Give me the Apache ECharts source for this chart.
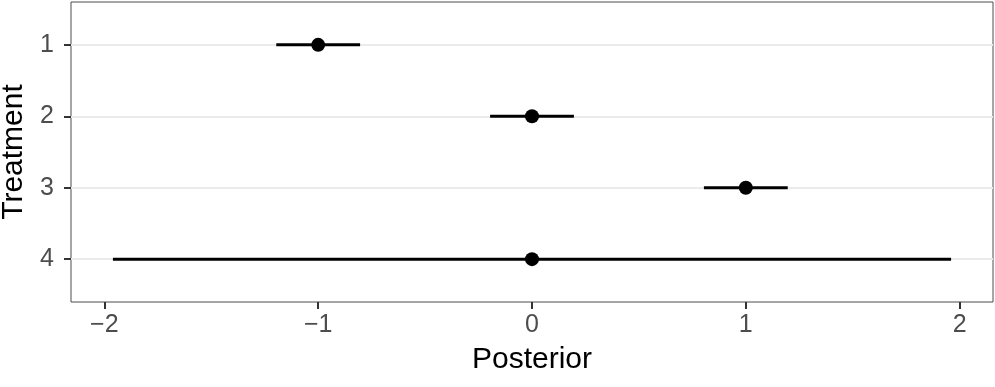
<!DOCTYPE html>
<html>
<head>
<meta charset="utf-8">
<script src="https://cdn.jsdelivr.net/npm/echarts@6/dist/echarts.min.js"></script>
<style>
html,body{margin:0;padding:0;background:#fff;}
#chart{width:995px;height:387px;}
</style>
</head>
<body>
<div id="chart"></div>
<script>
// Data
var treatments = [1, 2, 3, 4];
var means = [-1, 0, 1, 0];
var lowers = [-1.196, -0.196, 0.804, -1.96];
var uppers = [-0.804, 0.196, 1.196, 1.96];
var xTicks = [-2, -1, 0, 1, 2];
var yTicks = [1, 2, 3, 4];

var font = "'Liberation Sans', Arial, Helvetica, sans-serif";

var intervalData = treatments.map(function (t, i) { return [lowers[i], uppers[i], t]; });
var pointData = treatments.map(function (t, i) { return [means[i], t]; });

var chart = echarts.init(document.getElementById('chart'), null, {renderer: 'canvas'});
chart.setOption({
  animation: false,
  backgroundColor: '#ffffff',
  grid: {
    left: 71, right: 2, top: 2, bottom: 85,
    show: true, borderColor: '#4D4D4D', borderWidth: 1, backgroundColor: 'transparent',
    containLabel: false,
    outerBoundsMode: 'none'
  },
  xAxis: {
    type: 'value',
    min: -2.156, max: 2.156,
    name: 'Posterior',
    nameLocation: 'middle',
    nameGap: 43,
    nameTextStyle: {fontFamily: font, fontSize: 30, color: '#000'},
    axisLine: {show: false, onZero: false},
    axisTick: {show: true, customValues: xTicks, length: 7, lineStyle: {color: '#333333', width: 2}},
    axisLabel: {
      customValues: xTicks, margin: 11, fontFamily: font, fontSize: 25, color: '#4D4D4D',
      formatter: function (v) { return String(v).replace('-', '\u2212'); }
    },
    splitLine: {show: false}
  },
  yAxis: {
    type: 'value',
    min: 0.4, max: 4.6,
    inverse: true,
    name: 'Treatment',
    nameLocation: 'middle',
    nameGap: 37,
    nameTextStyle: {fontFamily: font, fontSize: 30, color: '#000'},
    axisLine: {show: false, onZero: false},
    axisTick: {show: true, customValues: yTicks, length: 7, lineStyle: {color: '#333333', width: 2}},
    axisLabel: {customValues: yTicks, margin: 17, fontFamily: font, fontSize: 25, color: '#4D4D4D'},
    splitLine: {show: true, lineStyle: {color: '#EBEBEB', width: 2}}
  },
  series: [
    {
      type: 'custom',
      data: intervalData,
      encode: {x: [0, 1], y: 2},
      z: 3,
      renderItem: function (params, api) {
        var p1 = api.coord([api.value(0), api.value(2)]);
        var p2 = api.coord([api.value(1), api.value(2)]);
        return {
          type: 'line',
          shape: {x1: p1[0], y1: p1[1], x2: p2[0], y2: p2[1]},
          style: {stroke: '#000', lineWidth: 3}
        };
      }
    },
    {
      type: 'scatter',
      data: pointData,
      symbol: 'circle',
      symbolSize: 14,
      itemStyle: {color: '#000', opacity: 1},
      z: 4
    }
  ]
});
</script>
</body>
</html>
